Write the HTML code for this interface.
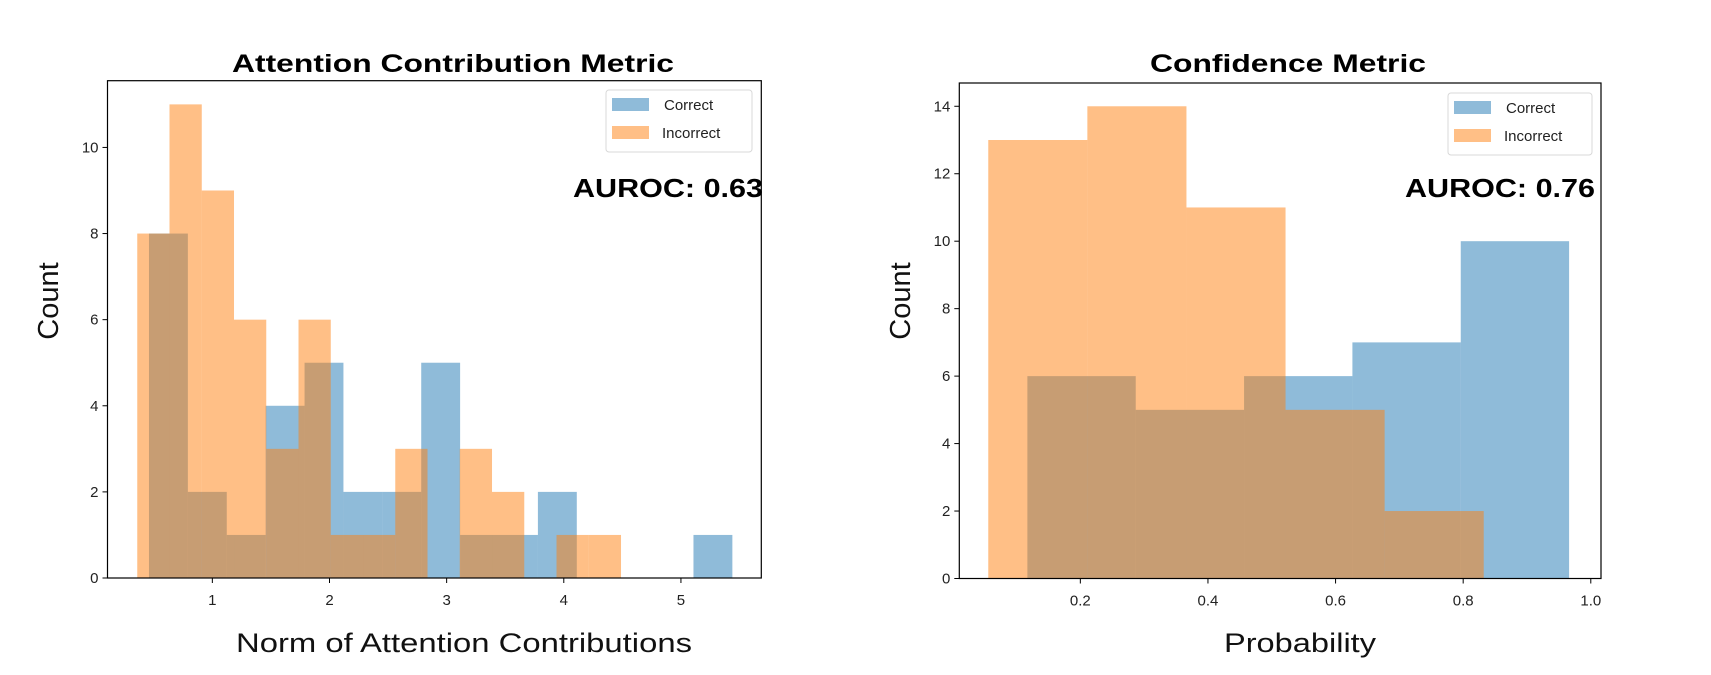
<!DOCTYPE html>
<html><head><meta charset="utf-8"><style>
html,body{margin:0;padding:0;background:#fff;}
svg{display:block;font-family:"Liberation Sans","DejaVu Sans",sans-serif;}
</style></head><body>
<svg id="fig" width="1711" height="675" viewBox="0 0 1711 675" xmlns="http://www.w3.org/2000/svg">
<g id="left"></g>
<g id="right"></g>
</svg>
<script>
// ---- Left chart data ----
const leftCorrectStart = 0.459;
const leftCorrectWidth = 0.332;
const leftCorrectCounts = [8,2,1,4,5,2,2,5,1,1,2,0,0,0,1];
const leftIncorrectStart = 0.359;
const leftIncorrectWidth = 0.2753;
const leftIncorrectCounts = [8,11,9,6,3,6,1,1,3,0,3,2,0,1,1];
const leftXTicks = [1,2,3,4,5];
const leftYTicks = [0,2,4,6,8,10];
// ---- Right chart data ----
const rightCorrectStart = 0.117;
const rightCorrectWidth = 0.1698;
const rightCorrectCounts = [6,5,6,7,10];
const rightIncorrectStart = 0.0557;
const rightIncorrectWidth = 0.1553;
const rightIncorrectCounts = [13,14,11,5,2];
const rightXTicks = [0.2,0.4,0.6,0.8,1.0];
const rightYTicks = [0,2,4,6,8,10,12,14];

const NS = "http://www.w3.org/2000/svg";
function mk(parent, tag, attrs, text){
  const e = document.createElementNS(NS, tag);
  for (const k in attrs) e.setAttribute(k, attrs[k]);
  if (text !== undefined) e.textContent = text;
  parent.appendChild(e);
  return e;
}

function drawChart(g, cfg){
  const x = v => cfg.x0 + (v - cfg.xmin) / (cfg.xmax - cfg.xmin) * (cfg.x1 - cfg.x0);
  const y = v => cfg.y0 - v / cfg.ymax * (cfg.y0 - cfg.y1);
  // bars
  const series = [
    {start: cfg.cStart, w: cfg.cWidth, counts: cfg.cCounts, color: "#1f77b4", name: "correct"},
    {start: cfg.iStart, w: cfg.iWidth, counts: cfg.iCounts, color: "#ff7f0e", name: "incorrect"}
  ];
  series.forEach(s => {
    s.counts.forEach((c, i) => {
      if (c <= 0) return;
      const a = s.start + i * s.w, b = a + s.w;
      const r = mk(g, "rect", {x: x(a), y: y(c), width: x(b) - x(a), height: y(0) - y(c), fill: s.color, "fill-opacity": 0.5});
      
      
    });
  });
  // frame
  const fr = mk(g, "rect", {x: cfg.x0, y: cfg.y1, width: cfg.x1 - cfg.x0, height: cfg.y0 - cfg.y1, fill: "none", stroke: "#000", "stroke-width": 1.2});
  
  
  // x ticks
  cfg.xticks.forEach(t => {
    const px = x(t);
    if (px > cfg.x1 + 1) return;
    mk(g, "line", {x1: px, x2: px, y1: cfg.y0, y2: cfg.y0 + 5, stroke: "#000", "stroke-width": 1});
    const tl = mk(g, "text", {x: px, y: cfg.y0 + 27, "text-anchor": "middle", "font-size": 15, fill: "#222"}, cfg.xfmt(t));
    
    
  });
  cfg.yticks.forEach(t => {
    const py = y(t);
    mk(g, "line", {x1: cfg.x0 - 5, x2: cfg.x0, y1: py, y2: py, stroke: "#000", "stroke-width": 1});
    const tl = mk(g, "text", {x: cfg.x0 - 9, y: py + 5, "text-anchor": "end", "font-size": 15, fill: "#222"}, String(t));
    
    
  });
  // title
  const ti = mk(g, "text", {x: cfg.titleX, y: 72, "text-anchor": "middle", "font-size": 25, "font-weight": "bold", textLength: cfg.titleW, lengthAdjust: "spacingAndGlyphs"}, cfg.title);
  
  
  // x label
  const xl = mk(g, "text", {x: cfg.xlabX, y: 652, "text-anchor": "middle", "font-size": 27, fill: "#111", textLength: cfg.xlabW, lengthAdjust: "spacingAndGlyphs"}, cfg.xlab);
  
  
  // y label
  const yl = mk(g, "text", {x: 0, y: 0, "text-anchor": "middle", "font-size": 29, fill: "#111", transform: "translate(" + cfg.ylabX + ",301) rotate(-90)"}, "Count");
  
  
  // legend
  const lg = mk(g, "g", {});
  
  
  mk(lg, "rect", {x: cfg.lgX, y: cfg.lgY, width: cfg.lgW, height: 62, rx: 3, fill: "#fff", "fill-opacity": 0.8, stroke: "#d8d8d8", "stroke-width": 1});
  const e1 = mk(lg, "g", {});
  
  
  mk(e1, "rect", {x: cfg.lgX + 6, y: cfg.lgY + 8, width: 37, height: 13, fill: "#1f77b4", "fill-opacity": 0.5});
  mk(e1, "text", {x: cfg.lgX + 58, y: cfg.lgY + 20, "font-size": 15, fill: "#222"}, "Correct");
  const e2 = mk(lg, "g", {});
  
  
  mk(e2, "rect", {x: cfg.lgX + 6, y: cfg.lgY + 36, width: 37, height: 13, fill: "#ff7f0e", "fill-opacity": 0.5});
  mk(e2, "text", {x: cfg.lgX + 56, y: cfg.lgY + 48, "font-size": 15, fill: "#222"}, "Incorrect");
  // AUROC
  const au = mk(g, "text", {x: cfg.auX, y: 197, "font-size": 26, "font-weight": "bold", textLength: 190, lengthAdjust: "spacingAndGlyphs"}, cfg.auroc);
  
  
}

drawChart(document.getElementById("left"), {
  x0: 107.5, x1: 761.3, y0: 578, y1: 80.7, xmin: 0.105, xmax: 5.686, ymax: 11.55,
  cStart: leftCorrectStart, cWidth: leftCorrectWidth, cCounts: leftCorrectCounts,
  iStart: leftIncorrectStart, iWidth: leftIncorrectWidth, iCounts: leftIncorrectCounts,
  xticks: leftXTicks, yticks: leftYTicks, xfmt: t => String(t),
  title: "Attention Contribution Metric", titleX: 453, titleW: 442,
  xlab: "Norm of Attention Contributions", xlabX: 464, xlabW: 456, ylabX: 58,
  lgX: 606, lgY: 90, lgW: 146, auX: 573, auroc: "AUROC: 0.63"
});
drawChart(document.getElementById("right"), {
  x0: 959.3, x1: 1601, y0: 578.5, y1: 83, xmin: 0.0103, xmax: 1.016, ymax: 14.69,
  cStart: rightCorrectStart, cWidth: rightCorrectWidth, cCounts: rightCorrectCounts,
  iStart: rightIncorrectStart, iWidth: rightIncorrectWidth, iCounts: rightIncorrectCounts,
  xticks: rightXTicks, yticks: rightYTicks, xfmt: t => t.toFixed(1),
  title: "Confidence Metric", titleX: 1288, titleW: 276,
  xlab: "Probability", xlabX: 1300, xlabW: 152, ylabX: 910,
  lgX: 1448, lgY: 93, lgW: 144, auX: 1405, auroc: "AUROC: 0.76"
});
</script>
</body></html>
